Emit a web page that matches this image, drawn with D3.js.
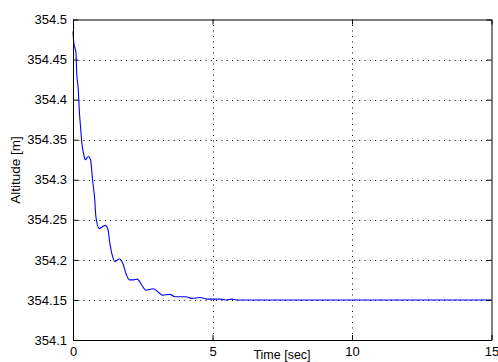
<!DOCTYPE html>
<html><head><meta charset="utf-8">
<script src="https://cdn.jsdelivr.net/npm/d3@7"></script>
<style>body{margin:0;background:#fff}svg{display:block}text{font-family:"Liberation Sans",Arial,sans-serif;fill:#000}</style>
</head><body><svg id="c" width="498" height="362"></svg>
<script>
const timeSec = [0,0.025,0.107,0.13,0.19,0.225,0.275,0.32,0.39,0.44,0.55,0.63,0.70,0.78,0.82,0.94,1.15,1.26,1.32,1.42,1.50,1.66,1.78,1.90,2.02,2.16,2.30,2.46,2.61,2.87,3.05,3.21,3.47,3.65,3.83,4.04,4.25,4.55,4.79,5.26,5.50,5.68,5.86,7,9,11,13,15];
const altitude = [354.485,354.472,354.458,354.435,354.412,354.387,354.364,354.345,354.331,354.325,354.329,354.325,354.300,354.275,354.254,354.239,354.243,354.237,354.221,354.204,354.198,354.201,354.196,354.183,354.175,354.175,354.176,354.169,354.162,354.164,354.160,354.156,354.157,354.154,354.154,354.154,354.152,354.153,354.151,354.151,354.150,354.151,354.150,354.150,354.150,354.150,354.150,354.150];
const xTicks = [0,5,10,15];
const yTicks = [354.1,354.15,354.2,354.25,354.3,354.35,354.4,354.45,354.5];
const xLabel = "Time [sec]", yLabel = "Altitude [m]";

const svg = d3.select("#c");
const L=73, R=491.5, T=19.5, B=340;
const x = d3.scaleLinear().domain([0,15]).range([L,R]);
const y = d3.scaleLinear().domain([354.1,354.5]).range([B,T]);

// grid
const g = svg.append("g");
g.selectAll("line.gx").data(xTicks.slice(1,-1)).join("line")
  .attr("x1",d=>Math.round(x(d))+0.5).attr("x2",d=>Math.round(x(d))+0.5).attr("y1",T).attr("y2",B)
  .attr("stroke","#000").attr("stroke-dasharray","1,4.5");
g.selectAll("line.gy").data(yTicks.slice(1,-1)).join("line")
  .attr("y1",d=>Math.round(y(d))+0.5).attr("y2",d=>Math.round(y(d))+0.5).attr("x1",L).attr("x2",R)
  .attr("stroke","#000").attr("stroke-dasharray","1,4.3");

// line
svg.append("path").datum(timeSec.map((t,i)=>[t,altitude[i]]))
  .attr("d",d3.line().x(d=>x(d[0])).y(d=>y(d[1])).curve(d3.curveMonotoneX))
  .attr("fill","none").attr("stroke","#0000ff").attr("stroke-width",1.1);

// axes
const fmt = d=>String(+d.toFixed(2));
const ax = (a)=>a.tickSizeOuter(0).tickPadding(4);
const xa = svg.append("g").attr("transform",`translate(0,${B})`).call(ax(d3.axisBottom(x).tickValues(xTicks).tickSizeInner(-5).tickFormat(fmt)).tickPadding(7));
const xt = svg.append("g").attr("transform",`translate(0,${T})`).call(d3.axisTop(x).tickValues(xTicks).tickSizeInner(-5).tickSizeOuter(0).tickFormat(""));
const ya = svg.append("g").attr("transform",`translate(${L},0)`).call(ax(d3.axisLeft(y).tickValues(yTicks).tickSizeInner(-5).tickFormat(fmt)).tickPadding(6));
const yr = svg.append("g").attr("transform",`translate(${R},0)`).call(d3.axisRight(y).tickValues(yTicks).tickSizeInner(-5).tickSizeOuter(0).tickFormat(""));
[xa,xt,ya,yr].forEach(a=>{a.selectAll("path,line").attr("stroke","#000");a.selectAll("text").attr("font-size",13).attr("font-family","Liberation Sans, Arial, sans-serif").attr("fill","#000");});
xa.selectAll("text").attr("dy","0.71em");

svg.append("text").attr("x",282).attr("y",359).attr("text-anchor","middle").attr("font-size",12.5).text(xLabel);
svg.append("text").attr("transform","translate(20,170) rotate(-90)").attr("text-anchor","middle").attr("font-size",13.5).text(yLabel);
</script></body></html>
